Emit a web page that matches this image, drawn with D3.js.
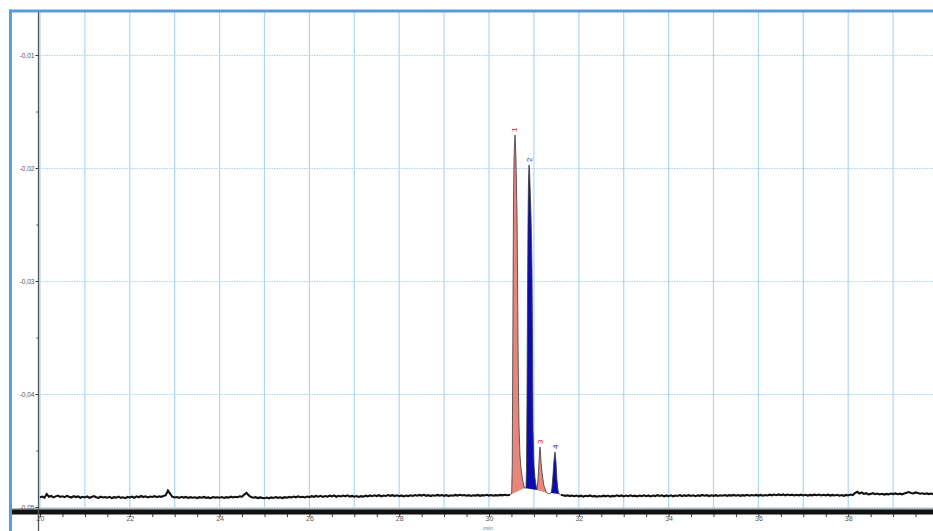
<!DOCTYPE html>
<html>
<head>
<meta charset="utf-8">
<script src="https://cdn.jsdelivr.net/npm/d3@7"></script>
<style>
  html, body { margin: 0; padding: 0; background: #ffffff; }
  svg { display: block; font-family: "Liberation Sans", Arial, sans-serif; }
</style>
</head>
<body>
<svg id="chart" width="933" height="531"></svg>
<script>
// Detector signal (AU) versus retention time (min)
// Baseline before the peaks: 20.00 .. 30.45 min, sampled every 0.05 min
const leadStart = 20.0;
const leadStep = 0.05;
const leadSignal = [
  -0.04914,-0.04908,-0.04918,-0.04885,-0.04910,-0.04902,-0.04915,-0.04906,-0.04899,-0.04911,
  -0.04905,-0.04913,-0.04901,-0.04909,-0.04916,-0.04904,-0.04912,-0.04907,-0.04918,-0.04910,
  -0.04915,-0.04906,-0.04919,-0.04911,-0.04903,-0.04914,-0.04920,-0.04909,-0.04916,-0.04912,
  -0.04918,-0.04910,-0.04921,-0.04913,-0.04917,-0.04908,-0.04919,-0.04914,-0.04922,-0.04911,
  -0.04916,-0.04909,-0.04918,-0.04906,-0.04914,-0.04903,-0.04912,-0.04905,-0.04915,-0.04907,
  -0.04911,-0.04904,-0.04913,-0.04906,-0.04910,-0.04902,-0.04896,-0.04855,-0.04884,-0.04910,
  -0.04916,-0.04912,-0.04919,-0.04910,-0.04917,-0.04911,-0.04920,-0.04913,-0.04918,-0.04914,
  -0.04921,-0.04913,-0.04918,-0.04911,-0.04919,-0.04915,-0.04922,-0.04912,-0.04917,-0.04914,
  -0.04918,-0.04912,-0.04920,-0.04913,-0.04917,-0.04909,-0.04916,-0.04910,-0.04914,-0.04906,
  -0.04909,-0.04890,-0.04875,-0.04898,-0.04912,-0.04918,-0.04913,-0.04921,-0.04915,-0.04919,
  -0.04922,-0.04916,-0.04923,-0.04915,-0.04920,-0.04912,-0.04919,-0.04914,-0.04921,-0.04913,
  -0.04918,-0.04911,-0.04916,-0.04908,-0.04914,-0.04906,-0.04913,-0.04909,-0.04915,-0.04907,
  -0.04912,-0.04904,-0.04910,-0.04902,-0.04909,-0.04901,-0.04911,-0.04903,-0.04908,-0.04900,
  -0.04906,-0.04898,-0.04909,-0.04901,-0.04907,-0.04899,-0.04905,-0.04897,-0.04908,-0.04902,
  -0.04909,-0.04903,-0.04911,-0.04904,-0.04908,-0.04900,-0.04906,-0.04898,-0.04904,-0.04897,
  -0.04903,-0.04896,-0.04905,-0.04898,-0.04902,-0.04894,-0.04901,-0.04895,-0.04903,-0.04897,
  -0.04904,-0.04898,-0.04906,-0.04899,-0.04903,-0.04896,-0.04902,-0.04894,-0.04900,-0.04893,
  -0.04899,-0.04892,-0.04901,-0.04895,-0.04903,-0.04896,-0.04900,-0.04893,-0.04899,-0.04894,
  -0.04901,-0.04895,-0.04903,-0.04897,-0.04900,-0.04893,-0.04899,-0.04892,-0.04898,-0.04894,
  -0.04900,-0.04895,-0.04902,-0.04896,-0.04899,-0.04893,-0.04901,-0.04895,-0.04898,-0.04892,
  -0.04899,-0.04894,-0.04900,-0.04895,-0.04898,-0.04893,-0.04897,-0.04892,-0.04896,-0.04894
];

// Elution window 30.47 .. 31.60 min (peaks 1-4)
const peakTimes = [
  30.468,30.490,30.505,30.518,30.535,30.546,30.557,30.568,30.579,30.590,30.601,30.612,30.624,
  30.635,30.646,30.657,30.668,30.690,30.713,30.735,30.757,30.791,
  30.824,30.835,30.846,30.857,30.869,30.880,30.891,30.902,30.913,30.924,30.935,30.947,30.958,
  30.969,30.980,31.002,31.024,31.047,31.069,
  31.091,31.114,31.125,31.136,31.147,31.158,31.180,31.203,31.225,31.258,31.292,
  31.336,31.381,31.403,31.425,31.448,31.470,31.492,31.514,31.537,31.559,31.604
];
const peakSignal = [
  -0.04894,-0.04885,-0.04867,-0.04628,-0.03168,-0.02283,-0.01929,-0.01796,-0.01708,-0.01796,-0.01929,-0.02150,-0.02416,
  -0.02903,-0.03522,-0.03965,-0.04274,-0.04540,-0.04655,-0.04726,-0.04779,-0.04832,
  -0.04832,-0.04673,-0.04053,-0.03168,-0.02460,-0.02106,-0.01973,-0.02018,-0.02150,-0.02283,-0.02416,-0.02637,-0.02903,
  -0.03522,-0.04319,-0.04628,-0.04743,-0.04805,-0.04850,
  -0.04761,-0.04602,-0.04513,-0.04469,-0.04513,-0.04602,-0.04690,-0.04761,-0.04814,-0.04850,-0.04876,
  -0.04885,-0.04876,-0.04832,-0.04717,-0.04584,-0.04513,-0.04602,-0.04761,-0.04850,-0.04885,-0.04894
];

// Baseline after the peaks: 31.65 .. 40.00 min, sampled every 0.05 min
const tailStart = 31.65;
const tailStep = 0.05;
const tailSignal = [
  -0.04896,-0.04901,-0.04897,-0.04903,-0.04898,-0.04905,-0.04899,
  -0.04906,-0.04900,-0.04908,-0.04901,-0.04905,-0.04898,-0.04907,-0.04902,-0.04909,-0.04903,
  -0.04907,-0.04900,-0.04906,-0.04899,-0.04908,-0.04902,-0.04905,-0.04897,-0.04904,-0.04898,
  -0.04906,-0.04899,-0.04904,-0.04897,-0.04905,-0.04900,-0.04907,-0.04899,-0.04903,-0.04896,
  -0.04904,-0.04898,-0.04906,-0.04899,-0.04903,-0.04895,-0.04902,-0.04896,-0.04905,-0.04898,
  -0.04904,-0.04897,-0.04905,-0.04898,-0.04902,-0.04894,-0.04903,-0.04897,-0.04901,-0.04895,
  -0.04902,-0.04896,-0.04904,-0.04897,-0.04901,-0.04893,-0.04900,-0.04895,-0.04903,-0.04896,
  -0.04901,-0.04895,-0.04902,-0.04896,-0.04900,-0.04894,-0.04901,-0.04895,-0.04899,-0.04893,
  -0.04900,-0.04894,-0.04901,-0.04895,-0.04899,-0.04892,-0.04900,-0.04894,-0.04898,-0.04893,
  -0.04899,-0.04893,-0.04900,-0.04894,-0.04898,-0.04891,-0.04897,-0.04890,-0.04896,-0.04889,
  -0.04895,-0.04889,-0.04897,-0.04890,-0.04896,-0.04891,-0.04898,-0.04892,-0.04897,-0.04891,
  -0.04898,-0.04892,-0.04899,-0.04893,-0.04897,-0.04891,-0.04896,-0.04890,-0.04898,-0.04892,
  -0.04897,-0.04891,-0.04899,-0.04893,-0.04898,-0.04892,-0.04900,-0.04894,-0.04901,-0.04893,
  -0.04898,-0.04890,-0.04894,-0.04878,-0.04866,-0.04880,-0.04872,-0.04884,-0.04878,-0.04889,
  -0.04884,-0.04878,-0.04887,-0.04881,-0.04889,-0.04883,-0.04890,-0.04884,-0.04888,-0.04881,
  -0.04886,-0.04880,-0.04887,-0.04882,-0.04888,-0.04880,-0.04874,-0.04868,-0.04876,-0.04880,
  -0.04871,-0.04877,-0.04883,-0.04879,-0.04885,-0.04880,-0.04886,-0.04881,-0.04887,-0.04882,
  -0.04884
];

// Integrated peaks: number, start / end of the integration window (min)
const peakIds = ["1", "2", "3", "4"];
const peakStarts = [30.468, 30.791, 31.069, 31.381];
const peakEnds = [30.791, 31.069, 31.292, 31.559];
const peakApexTimes = [30.579, 30.891, 31.136, 31.470];
const peakApexSignal = [-0.01708, -0.01973, -0.04469, -0.04513];

// Axis ticks
const yMajorTicks = [-0.05, -0.04, -0.03, -0.02, -0.01];
const yMinorTicks = [-0.045, -0.035, -0.025, -0.015];
const xTickStep = 0.5;
const xLabelStep = 2;

// Colours of alternating peaks
const peakFill = ["#e8867e", "#0b0bb0"];
const peakText = ["#e02424", "#2a2ac4"];

// ---------------------------------------------------------------------------

const W = 933, H = 531;
const svg = d3.select("#chart");

const x = d3.scaleLinear().domain([20, 40]).range([40, 938]);
const y = d3.scaleLinear().domain([-0.05, -0.01]).range([507, 55]);

// assemble the trace pieces
const lead = leadSignal.map((v, i) => [+(leadStart + i * leadStep).toFixed(2), v]);
const elution = peakTimes.map((t, i) => [t, peakSignal[i]]);
const tail = tailSignal.map((v, i) => [+(tailStart + i * tailStep).toFixed(2), v]);
const trace = lead.concat(elution, tail);

svg.append("defs").append("clipPath").attr("id", "plot")
  .append("rect").attr("x", 12).attr("y", 12).attr("width", W - 12).attr("height", 497);

// vertical grid, one per minute
const gx = d3.range(20, 40, 1);
svg.append("g").selectAll("line").data(gx).join("line")
  .attr("x1", d => x(d)).attr("x2", d => x(d))
  .attr("y1", 12).attr("y2", 508)
  .attr("stroke", "#acd8f3").attr("stroke-width", 1.2);

// horizontal dotted grid on labelled signal levels
svg.append("g").selectAll("line").data(yMajorTicks).join("line")
  .attr("x1", 39).attr("x2", W)
  .attr("y1", d => y(d) + 0.5).attr("y2", d => y(d) + 0.5)
  .attr("stroke", "#a6d4f2").attr("stroke-width", 1.2)
  .attr("stroke-dasharray", "1.5,1");

// peak areas, closed with straight integration baseline
const plot = svg.append("g").attr("clip-path", "url(#plot)");
peakIds.forEach((id, k) => {
  const pts = trace.filter(d => d[0] >= peakStarts[k] - 1e-6 && d[0] <= peakEnds[k] + 1e-6);
  plot.append("path")
    .attr("d", d3.line().x(d => x(d[0])).y(d => y(d[1]))(pts) + "Z")
    .attr("fill", peakFill[k % 2])
    .attr("stroke", "none");
});

const line = d3.line().x(d => x(d[0])).y(d => y(d[1]));

// noisy baseline segments
[lead.concat([elution[0]]), [elution[elution.length - 1]].concat(tail)].forEach(seg => {
  plot.append("path")
    .attr("d", line(seg))
    .attr("fill", "none")
    .attr("stroke", "#111111")
    .attr("stroke-width", 2.1)
    .attr("stroke-linejoin", "miter");
});

// elution window drawn with a finer pen
plot.append("path")
  .attr("d", line(elution))
  .attr("fill", "none")
  .attr("stroke", "#3a3a3a")
  .attr("stroke-width", 0.8);

// peak numbers, rotated, just above each apex
peakIds.forEach((id, k) => {
  const px = x(peakApexTimes[k]), py = y(peakApexSignal[k]) - 3;
  svg.append("text")
    .attr("transform", `translate(${px + 2.5},${py}) rotate(-90)`)
    .attr("font-size", 8)
    .attr("fill", peakText[k % 2])
    .text(id);
});

// x axis band
svg.append("rect").attr("x", 12).attr("y", 508.5).attr("width", W - 12).attr("height", 1.5).attr("fill", "#6a6a6a");
svg.append("rect").attr("x", 12).attr("y", 510).attr("width", W - 12).attr("height", 4.5).attr("fill", "#111111");

const xAxis = d3.axisBottom(x)
  .tickValues(d3.range(20, 40, xTickStep))
  .tickSize(3)
  .tickFormat(d => (Math.abs(d % xLabelStep) < 1e-9 ? String(d) : ""));
const gxAxis = svg.append("g").attr("transform", "translate(0,514)").call(xAxis);
gxAxis.select(".domain").remove();
gxAxis.selectAll(".tick line").attr("stroke", "#333");
gxAxis.selectAll(".tick text").attr("font-size", 7).attr("fill", "#555").attr("dy", "0.55em").attr("y", 3);

// x axis unit
svg.append("text").attr("x", 488).attr("y", 530).attr("text-anchor", "middle")
  .attr("font-size", 6).attr("fill", "#777").text("min");

// y axis
const comma = d3.formatLocale({ decimal: ",", thousands: ".", grouping: [3], currency: ["", ""], minus: "-" });
const yAxis = d3.axisLeft(y).tickValues(yMajorTicks).tickSize(3).tickFormat(comma.format(".2f"));
const gyAxis = svg.append("g").attr("transform", "translate(38.5,0)").call(yAxis);
gyAxis.select(".domain").remove();
gyAxis.selectAll(".tick line").attr("stroke", "#333");
gyAxis.selectAll(".tick text").attr("font-size", 6.5).attr("fill", "#555").attr("x", -4);

const gyMinor = svg.append("g").attr("transform", "translate(38.5,0)")
  .call(d3.axisLeft(y).tickValues(yMinorTicks).tickSize(2).tickFormat(""));
gyMinor.select(".domain").remove();
gyMinor.selectAll(".tick line").attr("stroke", "#333");

svg.append("line").attr("x1", 38.5).attr("x2", 38.5).attr("y1", 11).attr("y2", H)
  .attr("stroke", "#555").attr("stroke-width", 1.3);

// window frame
svg.append("line").attr("x1", 9).attr("x2", W).attr("y1", 11).attr("y2", 11)
  .attr("stroke", "#5b9bd8").attr("stroke-width", 3);
svg.append("line").attr("x1", 10.5).attr("x2", 10.5).attr("y1", 9.5).attr("y2", H)
  .attr("stroke", "#5b9bd8").attr("stroke-width", 3);
</script>
</body>
</html>
